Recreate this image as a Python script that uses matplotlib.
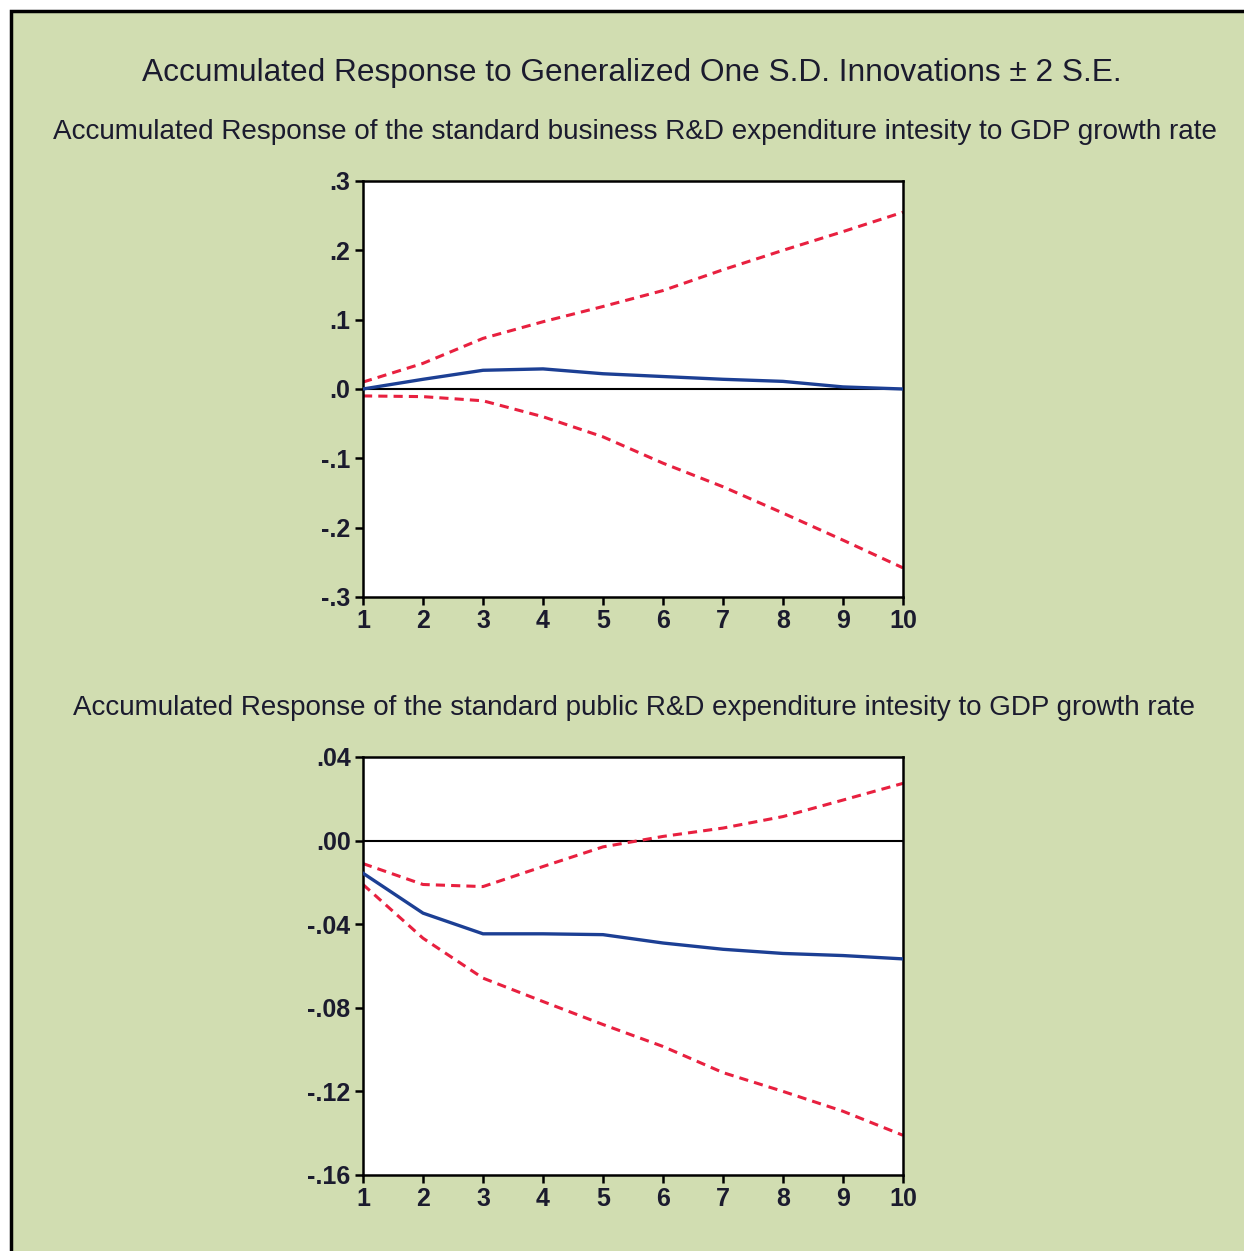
import matplotlib
matplotlib.use("Agg")
import matplotlib.pyplot as plt
from matplotlib import font_manager
from matplotlib.patches import Rectangle

# horizontes (periodos)
periodos = [1, 2, 3, 4, 5, 6, 7, 8, 9, 10]

# resposta acumulada: business R&D
resp_business = [0.000, 0.014, 0.027, 0.029, 0.022, 0.018, 0.014, 0.011, 0.003, 0.000]
sup_business = [0.010, 0.037, 0.073, 0.097, 0.119, 0.142, 0.172, 0.200, 0.227, 0.255]
inf_business = [-0.010, -0.011, -0.017, -0.040, -0.069, -0.107, -0.141, -0.179, -0.218, -0.258]

# resposta acumulada: public R&D
resp_public = [-0.0156, -0.0347, -0.0446, -0.0446, -0.0450, -0.0490, -0.0520, -0.0540, -0.0550, -0.0566]
sup_public = [-0.011, -0.021, -0.022, -0.0124, -0.003, 0.002, 0.006, 0.0115, 0.0194, 0.0274]
inf_public = [-0.021, -0.0467, -0.0658, -0.077, -0.088, -0.0985, -0.111, -0.120, -0.1295, -0.141]

ticks_business = [0.3, 0.2, 0.1, 0.0, -0.1, -0.2, -0.3]
rotulos_business = [".3", ".2", ".1", ".0", "-.1", "-.2", "-.3"]
ticks_public = [0.04, 0.0, -0.04, -0.08, -0.12, -0.16]
rotulos_public = [".04", ".00", "-.04", "-.08", "-.12", "-.16"]

titulo = "Accumulated Response to Generalized One S.D. Innovations \u00b1 2 S.E."
sub1 = "Accumulated Response of the standard business R&D expenditure intesity to GDP growth rate"
sub2 = "Accumulated Response of the standard public R&D expenditure intesity to GDP growth rate"

nomes = {f.name for f in font_manager.fontManager.ttflist}
fonte = "Liberation Sans Narrow" if "Liberation Sans Narrow" in nomes else "Liberation Sans"

VERDE = "#d1ddb1"
AZUL = "#1c3f94"
VERMELHO = "#e8203f"
TEXTO = "#1b1b2e"

fig = plt.figure(figsize=(12.44, 12.51), dpi=100)
fig.patch.set_facecolor("white")
W, H = 1244, 1251
fundo = Rectangle((11 / W, -0.05), 1.2, 1 - 11 / H + 0.05,
                  transform=fig.transFigure, facecolor=VERDE,
                  edgecolor="black", linewidth=2.5, zorder=-10)
fig.add_artist(fundo)

fig.text(0.508, 0.942, titulo, ha="center", va="center", fontsize=22.8,
         family=fonte, color=TEXTO)
fig.text(0.51, 0.8945, sub1, ha="center", va="center", fontsize=20.1,
         family=fonte, color=TEXTO)
fig.text(0.51, 0.4340, sub2, ha="center", va="center", fontsize=20,
         family=fonte, color=TEXTO)


def painel(pos, resp, sup, inf, yticks, ylabels):
    ax = fig.add_axes(pos)
    ax.set_zorder(1)
    ax.set_facecolor("white")
    ax.axhline(0, color="black", lw=1.5, zorder=1)
    ax.plot(periodos, sup, color=VERMELHO, lw=2.2, ls=(0, (3, 2)), zorder=2)
    ax.plot(periodos, inf, color=VERMELHO, lw=2.2, ls=(0, (3, 2)), zorder=2)
    ax.plot(periodos, resp, color=AZUL, lw=2.4, zorder=3)
    ax.set_xlim(1, 10)
    ax.set_ylim(yticks[-1], yticks[0])
    ax.set_xticks(periodos)
    ax.set_xticklabels([str(p) for p in periodos])
    ax.set_yticks(yticks)
    ax.set_yticklabels(ylabels)
    for s in ax.spines.values():
        s.set_linewidth(1.8)
    ax.tick_params(direction="out", length=6, width=1.8, labelsize=18,
                   labelcolor=TEXTO, pad=3)
    for lab in ax.get_xticklabels() + ax.get_yticklabels():
        lab.set_family(fonte)
        lab.set_fontweight("bold")
    return ax


painel([363 / W, 1 - 597 / H, 540 / W, 416 / H],
       resp_business, sup_business, inf_business, ticks_business, rotulos_business)
painel([363 / W, 1 - 1175 / H, 540 / W, 418 / H],
       resp_public, sup_public, inf_public, ticks_public, rotulos_public)

fig.savefig("out.png", dpi=100, facecolor=fig.get_facecolor())
